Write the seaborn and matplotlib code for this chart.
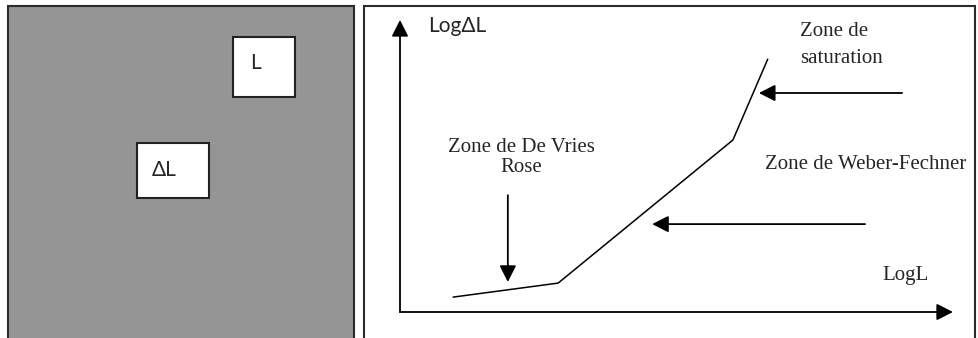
import matplotlib
matplotlib.use("Agg")
import matplotlib.pyplot as plt
import seaborn as sns
import pandas as pd
from matplotlib.patches import Rectangle

sns.set_theme(style="white")

# Schematic curve (arbitrary units, axis from 0 to 10)
log_l = [0.96, 2.86, 6.02, 6.65]
log_dl = [0.51, 0.99, 5.89, 8.66]

zone_labels = ["Zone de De Vries\nRose", "Zone de Weber-Fechner", "Zone de\nsaturation"]
x_label = "LogL"
y_label = "Log\u0394L"
box_labels = ["L", "\u0394L"]

curve = pd.DataFrame({"LogL": log_l, "LogDL": log_dl})

fig = plt.figure(figsize=(9.79, 3.38), dpi=100)

# background layer in pixel coordinates
bg = fig.add_axes([0, 0, 1, 1])
bg.set_xlim(0, 979)
bg.set_ylim(338, 0)
bg.axis("off")

edge = "#2b2b2b"
bg.add_patch(Rectangle((8, 6), 346, 340, facecolor="#959595", edgecolor=edge, lw=1.5))
bg.add_patch(Rectangle((364.5, 6), 611, 340, facecolor="white", edgecolor=edge, lw=1.5))
bg.add_patch(Rectangle((233, 37), 62, 60, facecolor="white", edgecolor="#222222", lw=1.5))
bg.add_patch(Rectangle((137, 143), 72, 55, facecolor="white", edgecolor="#222222", lw=1.5))
sans = ["Lato", "DejaVu Sans"]
bg.text(250, 63, box_labels[0], family=sans, fontsize=15, va="center", ha="left")
bg.text(152, 170, box_labels[1], family=sans, fontsize=15, va="center", ha="left")

# graph area
ax = fig.add_axes([400 / 979, (338 - 312) / 338, 553 / 979, 292 / 338])
ax.set_xlim(0, 10)
ax.set_ylim(0, 10)
ax.axis("off")

sns.lineplot(data=curve, x="LogL", y="LogDL", ax=ax, color="black", lw=1.1, sort=False)

arrow = dict(arrowstyle="-|>,head_length=0.55,head_width=0.28", color="black",
             lw=1.3, shrinkA=0, shrinkB=0, mutation_scale=18)

# axes arrows
ax.annotate("", xy=(0, 1), xytext=(0, 0), xycoords="axes fraction", arrowprops=arrow)
ax.annotate("", xy=(1, 0), xytext=(0, 0), xycoords="axes fraction", arrowprops=arrow)

serif = ["Liberation Serif", "DejaVu Serif"]
ax.text(0.5, 9.8, y_label, family=sans, fontsize=15, va="center", ha="left")
ax.text(8.72, 1.26, x_label, family=serif, fontsize=15, va="center", ha="left")

# zone labels with arrows
ax.text(2.2, 5.3, zone_labels[0], family=serif, fontsize=15, va="center",
        ha="center", linespacing=1.1)
ax.annotate("", xy=(1.95, 1.03), xytext=(1.95, 4.0), arrowprops=arrow)

ax.text(6.6, 5.05, zone_labels[1], family=serif, fontsize=15, va="center", ha="left")
ax.annotate("", xy=(4.56, 3.01), xytext=(8.41, 3.01), arrowprops=arrow)

ax.text(7.24, 9.15, zone_labels[2], family=serif, fontsize=15, va="center",
        ha="left", linespacing=1.6)
ax.annotate("", xy=(6.49, 7.5), xytext=(9.08, 7.5), arrowprops=arrow)

fig.savefig("out.png", dpi=100)
